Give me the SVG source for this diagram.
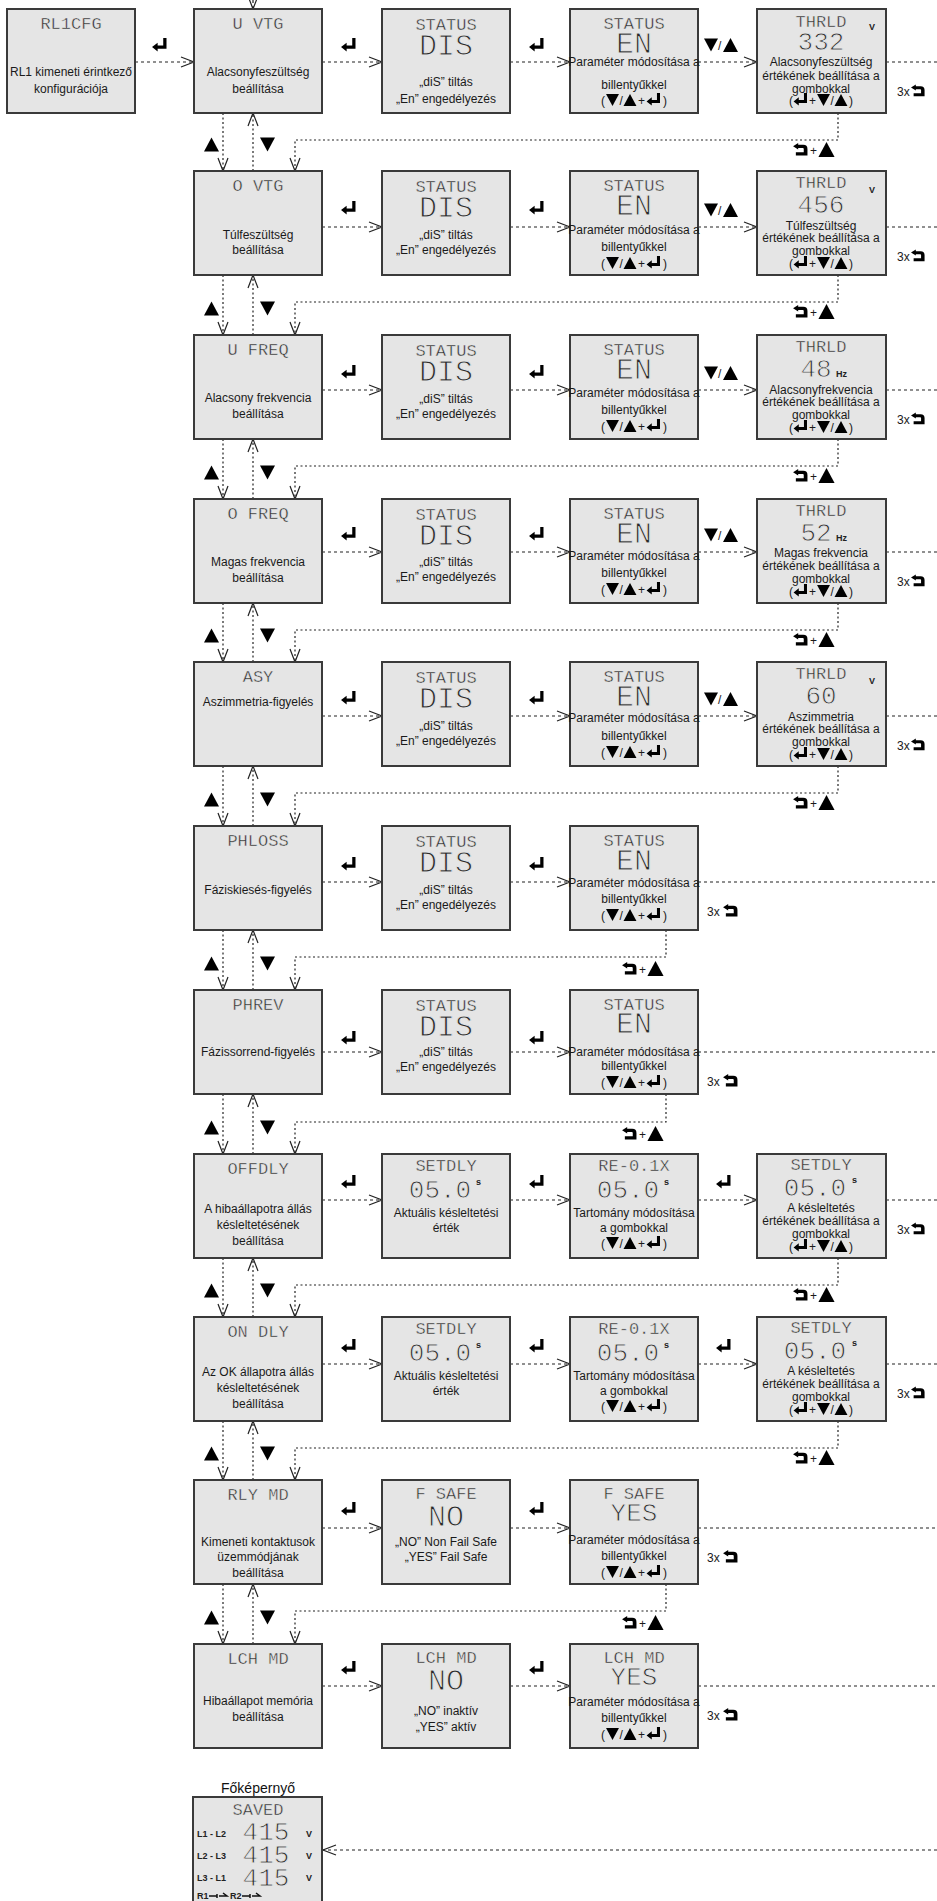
<svg xmlns="http://www.w3.org/2000/svg" width="937" height="1901" viewBox="0 0 937 1901">
<style>
.box{fill:#e5e5e5;stroke:#3a3a3a;stroke-width:2}
.lcd{font-family:"Liberation Mono","DejaVu Sans Mono",monospace;fill:#2a2a2a;stroke:#e5e5e5;stroke-width:0.45px;text-anchor:middle;font-size:17px}
.lg{font-size:30px;stroke-width:1px}
.md{font-size:26px;stroke-width:0.9px}
.t{font-family:"Liberation Sans",Arial,sans-serif;font-size:12px;fill:#1a1a1a;text-anchor:middle}
.ts{font-family:"Liberation Sans",Arial,sans-serif;font-size:12px;fill:#1a1a1a}
.u{font-family:"Liberation Sans",Arial,sans-serif;font-size:9px;font-weight:bold;fill:#222}
.c{fill:none;stroke:#222;stroke-width:1.2;stroke-dasharray:3 3}
.d{fill:none;stroke:#222;stroke-width:1.2;stroke-dasharray:2 2.5}
.ti{font-family:"Liberation Sans",Arial,sans-serif;font-size:14px;fill:#111;text-anchor:middle}
</style>
<defs>
<marker id="ah" markerUnits="userSpaceOnUse" markerWidth="16" markerHeight="12" refX="14" refY="6" orient="auto"><path d="M1,1 L14,6 L1,11" fill="none" stroke="#222" stroke-width="1.2" stroke-dasharray="none"/></marker>
<symbol id="ent" viewBox="0 0 16 15"><path d="M12,0H15.5V11.5H6V14.5L0,9.75L6,5V8H12Z"/></symbol>
<symbol id="bk" viewBox="0 0 16 14"><path d="M0,3.5L5.5,0V2H11Q15.5,2 15.5,6.5V13.5H3V10H11.5V6.5Q11.5,5.5 10.5,5.5H5.5V7Z"/></symbol>
<symbol id="tu" viewBox="0 0 14 13"><path d="M7,0L14,13H0Z"/></symbol>
<symbol id="td" viewBox="0 0 14 13"><path d="M0,0H14L7,13Z"/></symbol>
</defs>

<g id="connectors">
<path class="c" d="M253,0V9" marker-end="url(#ah)"/>
<path class="c" d="M135,62H194" marker-end="url(#ah)"/>
<path class="c" d="M322,62H382" marker-end="url(#ah)"/>
<path class="c" d="M510,62H570" marker-end="url(#ah)"/>
<path class="c" d="M698,62H757" marker-end="url(#ah)"/>
<path class="c" d="M886,62H937"/>
<path class="c" d="M322,227H382" marker-end="url(#ah)"/>
<path class="c" d="M510,227H570" marker-end="url(#ah)"/>
<path class="c" d="M698,227H757" marker-end="url(#ah)"/>
<path class="c" d="M886,227H937"/>
<path class="c" d="M322,390H382" marker-end="url(#ah)"/>
<path class="c" d="M510,390H570" marker-end="url(#ah)"/>
<path class="c" d="M698,390H757" marker-end="url(#ah)"/>
<path class="c" d="M886,390H937"/>
<path class="c" d="M322,552H382" marker-end="url(#ah)"/>
<path class="c" d="M510,552H570" marker-end="url(#ah)"/>
<path class="c" d="M698,552H757" marker-end="url(#ah)"/>
<path class="c" d="M886,552H937"/>
<path class="c" d="M322,716H382" marker-end="url(#ah)"/>
<path class="c" d="M510,716H570" marker-end="url(#ah)"/>
<path class="c" d="M698,716H757" marker-end="url(#ah)"/>
<path class="c" d="M886,716H937"/>
<path class="c" d="M322,882H382" marker-end="url(#ah)"/>
<path class="c" d="M510,882H570" marker-end="url(#ah)"/>
<path class="c" d="M698,882H937"/>
<path class="c" d="M322,1052H382" marker-end="url(#ah)"/>
<path class="c" d="M510,1052H570" marker-end="url(#ah)"/>
<path class="c" d="M698,1052H937"/>
<path class="c" d="M322,1200H382" marker-end="url(#ah)"/>
<path class="c" d="M510,1200H570" marker-end="url(#ah)"/>
<path class="c" d="M698,1200H757" marker-end="url(#ah)"/>
<path class="c" d="M886,1200H937"/>
<path class="c" d="M322,1364H382" marker-end="url(#ah)"/>
<path class="c" d="M510,1364H570" marker-end="url(#ah)"/>
<path class="c" d="M698,1364H757" marker-end="url(#ah)"/>
<path class="c" d="M886,1364H937"/>
<path class="c" d="M322,1528H382" marker-end="url(#ah)"/>
<path class="c" d="M510,1528H570" marker-end="url(#ah)"/>
<path class="c" d="M698,1528H937"/>
<path class="c" d="M322,1686H382" marker-end="url(#ah)"/>
<path class="c" d="M510,1686H570" marker-end="url(#ah)"/>
<path class="c" d="M698,1686H937"/>
<path class="c" d="M937,1850H323" marker-end="url(#ah)"/>
<path class="d" d="M223,113V171" marker-end="url(#ah)"/><path class="d" d="M253,171V113" marker-end="url(#ah)"/>
<path class="d" d="M223,275V335" marker-end="url(#ah)"/><path class="d" d="M253,335V275" marker-end="url(#ah)"/>
<path class="d" d="M223,439V499" marker-end="url(#ah)"/><path class="d" d="M253,499V439" marker-end="url(#ah)"/>
<path class="d" d="M223,603V662" marker-end="url(#ah)"/><path class="d" d="M253,662V603" marker-end="url(#ah)"/>
<path class="d" d="M223,766V826" marker-end="url(#ah)"/><path class="d" d="M253,826V766" marker-end="url(#ah)"/>
<path class="d" d="M223,930V990" marker-end="url(#ah)"/><path class="d" d="M253,990V930" marker-end="url(#ah)"/>
<path class="d" d="M223,1094V1154" marker-end="url(#ah)"/><path class="d" d="M253,1154V1094" marker-end="url(#ah)"/>
<path class="d" d="M223,1258V1317" marker-end="url(#ah)"/><path class="d" d="M253,1317V1258" marker-end="url(#ah)"/>
<path class="d" d="M223,1421V1480" marker-end="url(#ah)"/><path class="d" d="M253,1480V1421" marker-end="url(#ah)"/>
<path class="d" d="M223,1584V1644" marker-end="url(#ah)"/><path class="d" d="M253,1644V1584" marker-end="url(#ah)"/>
<path class="d" d="M838,113V140H295V171" marker-end="url(#ah)"/>
<path class="d" d="M838,275V302H295V335" marker-end="url(#ah)"/>
<path class="d" d="M838,439V466H295V499" marker-end="url(#ah)"/>
<path class="d" d="M838,603V630H295V662" marker-end="url(#ah)"/>
<path class="d" d="M838,766V793H295V826" marker-end="url(#ah)"/>
<path class="d" d="M666,930V957H295V990" marker-end="url(#ah)"/>
<path class="d" d="M666,1094V1122H295V1154" marker-end="url(#ah)"/>
<path class="d" d="M838,1258V1285H295V1317" marker-end="url(#ah)"/>
<path class="d" d="M838,1421V1448H295V1480" marker-end="url(#ah)"/>
<path class="d" d="M666,1584V1611H295V1644" marker-end="url(#ah)"/>
</g>

<g id="connector-labels">
<use href="#ent" x="152" y="38" width="15" height="14"/><use href="#ent" x="341" y="38" width="15" height="14"/><use href="#ent" x="529" y="38" width="15" height="14"/>
<use href="#td" x="704" y="38" width="14" height="14"/><text class="ts" x="718" y="50">/</text><use href="#tu" x="723" y="38" width="15" height="14"/>
<use href="#ent" x="341" y="201" width="15" height="14"/><use href="#ent" x="529" y="201" width="15" height="14"/>
<use href="#td" x="704" y="203" width="14" height="14"/><text class="ts" x="718" y="215">/</text><use href="#tu" x="723" y="203" width="15" height="14"/>
<use href="#ent" x="341" y="365" width="15" height="14"/><use href="#ent" x="529" y="365" width="15" height="14"/>
<use href="#td" x="704" y="366" width="14" height="14"/><text class="ts" x="718" y="378">/</text><use href="#tu" x="723" y="366" width="15" height="14"/>
<use href="#ent" x="341" y="527" width="15" height="14"/><use href="#ent" x="529" y="527" width="15" height="14"/>
<use href="#td" x="704" y="528" width="14" height="14"/><text class="ts" x="718" y="540">/</text><use href="#tu" x="723" y="528" width="15" height="14"/>
<use href="#ent" x="341" y="691" width="15" height="14"/><use href="#ent" x="529" y="691" width="15" height="14"/>
<use href="#td" x="704" y="692" width="14" height="14"/><text class="ts" x="718" y="704">/</text><use href="#tu" x="723" y="692" width="15" height="14"/>
<use href="#ent" x="341" y="857" width="15" height="14"/><use href="#ent" x="529" y="857" width="15" height="14"/>
<use href="#ent" x="341" y="1031" width="15" height="14"/><use href="#ent" x="529" y="1031" width="15" height="14"/>
<use href="#ent" x="341" y="1175" width="15" height="14"/><use href="#ent" x="529" y="1175" width="15" height="14"/><use href="#ent" x="716" y="1175" width="15" height="14"/>
<use href="#ent" x="341" y="1339" width="15" height="14"/><use href="#ent" x="529" y="1339" width="15" height="14"/><use href="#ent" x="716" y="1339" width="15" height="14"/>
<use href="#ent" x="341" y="1502" width="15" height="14"/><use href="#ent" x="529" y="1502" width="15" height="14"/>
<use href="#ent" x="341" y="1661" width="15" height="14"/><use href="#ent" x="529" y="1661" width="15" height="14"/>
<use href="#tu" x="204" y="137" width="15" height="15"/><use href="#td" x="260" y="137" width="15" height="15"/>
<use href="#tu" x="204" y="301" width="15" height="15"/><use href="#td" x="260" y="301" width="15" height="15"/>
<use href="#tu" x="204" y="465" width="15" height="15"/><use href="#td" x="260" y="465" width="15" height="15"/>
<use href="#tu" x="204" y="628" width="15" height="15"/><use href="#td" x="260" y="628" width="15" height="15"/>
<use href="#tu" x="204" y="792" width="15" height="15"/><use href="#td" x="260" y="792" width="15" height="15"/>
<use href="#tu" x="204" y="956" width="15" height="15"/><use href="#td" x="260" y="956" width="15" height="15"/>
<use href="#tu" x="204" y="1120" width="15" height="15"/><use href="#td" x="260" y="1120" width="15" height="15"/>
<use href="#tu" x="204" y="1283" width="15" height="15"/><use href="#td" x="260" y="1283" width="15" height="15"/>
<use href="#tu" x="204" y="1446" width="15" height="15"/><use href="#td" x="260" y="1446" width="15" height="15"/>
<use href="#tu" x="204" y="1610" width="15" height="15"/><use href="#td" x="260" y="1610" width="15" height="15"/>
<use href="#bk" x="793" y="143" width="15" height="13"/><text class="ts" x="810" y="155">+</text><use href="#tu" x="818" y="142" width="17" height="15"/>
<use href="#bk" x="793" y="305" width="15" height="13"/><text class="ts" x="810" y="317">+</text><use href="#tu" x="818" y="304" width="17" height="15"/>
<use href="#bk" x="793" y="469" width="15" height="13"/><text class="ts" x="810" y="481">+</text><use href="#tu" x="818" y="468" width="17" height="15"/>
<use href="#bk" x="793" y="633" width="15" height="13"/><text class="ts" x="810" y="645">+</text><use href="#tu" x="818" y="632" width="17" height="15"/>
<use href="#bk" x="793" y="796" width="15" height="13"/><text class="ts" x="810" y="808">+</text><use href="#tu" x="818" y="795" width="17" height="15"/>
<use href="#bk" x="622" y="962" width="15" height="13"/><text class="ts" x="639" y="974">+</text><use href="#tu" x="647" y="961" width="17" height="15"/>
<use href="#bk" x="622" y="1127" width="15" height="13"/><text class="ts" x="639" y="1139">+</text><use href="#tu" x="647" y="1126" width="17" height="15"/>
<use href="#bk" x="793" y="1288" width="15" height="13"/><text class="ts" x="810" y="1300">+</text><use href="#tu" x="818" y="1287" width="17" height="15"/>
<use href="#bk" x="793" y="1451" width="15" height="13"/><text class="ts" x="810" y="1463">+</text><use href="#tu" x="818" y="1450" width="17" height="15"/>
<use href="#bk" x="622" y="1616" width="15" height="13"/><text class="ts" x="639" y="1628">+</text><use href="#tu" x="647" y="1615" width="17" height="15"/>
<text class="ts" x="897" y="96" font-size="11">3x</text><use href="#bk" x="911" y="84" width="14" height="13"/>
<text class="ts" x="897" y="261" font-size="11">3x</text><use href="#bk" x="911" y="249" width="14" height="13"/>
<text class="ts" x="897" y="424" font-size="11">3x</text><use href="#bk" x="911" y="412" width="14" height="13"/>
<text class="ts" x="897" y="586" font-size="11">3x</text><use href="#bk" x="911" y="574" width="14" height="13"/>
<text class="ts" x="897" y="750" font-size="11">3x</text><use href="#bk" x="911" y="738" width="14" height="13"/>
<text class="ts" x="707" y="916" font-size="11">3x</text><use href="#bk" x="723" y="904" width="15" height="13"/>
<text class="ts" x="707" y="1086" font-size="11">3x</text><use href="#bk" x="723" y="1074" width="15" height="13"/>
<text class="ts" x="897" y="1234" font-size="11">3x</text><use href="#bk" x="911" y="1222" width="14" height="13"/>
<text class="ts" x="897" y="1398" font-size="11">3x</text><use href="#bk" x="911" y="1386" width="14" height="13"/>
<text class="ts" x="707" y="1562" font-size="11">3x</text><use href="#bk" x="723" y="1550" width="15" height="13"/>
<text class="ts" x="707" y="1720" font-size="11">3x</text><use href="#bk" x="723" y="1708" width="15" height="13"/>
</g>

<g id="rl1cfg"><rect class="box" x="7" y="9" width="128" height="104"/><text class="lcd" x="71" y="29">RL1CFG</text><text class="t" x="71" y="76">RL1 kimeneti érintkező</text><text class="t" x="71" y="93">konfigurációja</text></g>
<g id="u-vtg"><rect class="box" x="194" y="9" width="128" height="104"/><text class="lcd" x="258" y="29">U VTG</text><text class="t" x="258" y="76">Alacsonyfeszültség</text><text class="t" x="258" y="93">beállítása</text></g>
<g id="u-vtg-status"><rect class="box" x="382" y="9" width="128" height="104"/><text class="lcd" x="446" y="30">STATUS</text><text class="lcd lg" x="446" y="55">DIS</text><text class="t" x="446" y="86">„diS” tiltás</text><text class="t" x="446" y="103">„En” engedélyezés</text></g>
<g id="u-vtg-en"><rect class="box" x="570" y="9" width="128" height="104"/><text class="lcd" x="634" y="29">STATUS</text><text class="lcd lg" x="634" y="53">EN</text><text class="t" x="634" y="66">Paraméter módosítása a</text><text class="t" x="634" y="89">billentyűkkel</text>
<g transform="translate(601,105)"><text class="ts" x="0" y="0">(</text><use href="#td" x="5" y="-11" width="13" height="12"/><text class="ts" x="18.5" y="0">/</text><use href="#tu" x="22" y="-11" width="14" height="12"/><text class="ts" x="37" y="0">+</text><use href="#ent" x="45" y="-12" width="15" height="13"/><text class="ts" x="62" y="0">)</text></g></g>
<g id="u-vtg-thrld"><rect class="box" x="757" y="9" width="129" height="104"/><text class="lcd" x="821" y="27">THRLD</text><text class="lcd md" x="821" y="50">332</text><text class="u" x="869" y="30">V</text><text class="t" x="821" y="66">Alacsonyfeszültség</text><text class="t" x="821" y="80">értékének beállítása a</text><text class="t" x="821" y="93">gombokkal</text>
<g transform="translate(789,105)"><text class="ts" x="0" y="0">(</text><use href="#ent" x="4" y="-12" width="15" height="13"/><text class="ts" x="20" y="0">+</text><use href="#td" x="28" y="-11" width="13" height="12"/><text class="ts" x="41.5" y="0">/</text><use href="#tu" x="45" y="-11" width="14" height="12"/><text class="ts" x="60" y="0">)</text></g></g>

<g id="o-vtg"><rect class="box" x="194" y="171" width="128" height="104"/><text class="lcd" x="258" y="191">O VTG</text><text class="t" x="258" y="239">Túlfeszültség</text><text class="t" x="258" y="254">beállítása</text></g>
<g id="o-vtg-status"><rect class="box" x="382" y="171" width="128" height="104"/><text class="lcd" x="446" y="192">STATUS</text><text class="lcd lg" x="446" y="217">DIS</text><text class="t" x="446" y="239">„diS” tiltás</text><text class="t" x="446" y="254">„En” engedélyezés</text></g>
<g id="o-vtg-en"><rect class="box" x="570" y="171" width="128" height="104"/><text class="lcd" x="634" y="191">STATUS</text><text class="lcd lg" x="634" y="215">EN</text><text class="t" x="634" y="234">Paraméter módosítása a</text><text class="t" x="634" y="251">billentyűkkel</text>
<g transform="translate(601,268)"><text class="ts" x="0" y="0">(</text><use href="#td" x="5" y="-11" width="13" height="12"/><text class="ts" x="18.5" y="0">/</text><use href="#tu" x="22" y="-11" width="14" height="12"/><text class="ts" x="37" y="0">+</text><use href="#ent" x="45" y="-12" width="15" height="13"/><text class="ts" x="62" y="0">)</text></g></g>
<g id="o-vtg-thrld"><rect class="box" x="757" y="171" width="129" height="104"/><text class="lcd" x="821" y="188">THRLD</text><text class="lcd md" x="821" y="213">456</text><text class="u" x="869" y="193">V</text><text class="t" x="821" y="230">Túlfeszültség</text><text class="t" x="821" y="242">értékének beállítása a</text><text class="t" x="821" y="255">gombokkal</text>
<g transform="translate(789,268)"><text class="ts" x="0" y="0">(</text><use href="#ent" x="4" y="-12" width="15" height="13"/><text class="ts" x="20" y="0">+</text><use href="#td" x="28" y="-11" width="13" height="12"/><text class="ts" x="41.5" y="0">/</text><use href="#tu" x="45" y="-11" width="14" height="12"/><text class="ts" x="60" y="0">)</text></g></g>

<g id="u-freq"><rect class="box" x="194" y="335" width="128" height="104"/><text class="lcd" x="258" y="355">U FREQ</text><text class="t" x="258" y="402">Alacsony frekvencia</text><text class="t" x="258" y="418">beállítása</text></g>
<g id="u-freq-status"><rect class="box" x="382" y="335" width="128" height="104"/><text class="lcd" x="446" y="356">STATUS</text><text class="lcd lg" x="446" y="381">DIS</text><text class="t" x="446" y="403">„diS” tiltás</text><text class="t" x="446" y="418">„En” engedélyezés</text></g>
<g id="u-freq-en"><rect class="box" x="570" y="335" width="128" height="104"/><text class="lcd" x="634" y="355">STATUS</text><text class="lcd lg" x="634" y="379">EN</text><text class="t" x="634" y="397">Paraméter módosítása a</text><text class="t" x="634" y="414">billentyűkkel</text>
<g transform="translate(601,431)"><text class="ts" x="0" y="0">(</text><use href="#td" x="5" y="-11" width="13" height="12"/><text class="ts" x="18.5" y="0">/</text><use href="#tu" x="22" y="-11" width="14" height="12"/><text class="ts" x="37" y="0">+</text><use href="#ent" x="45" y="-12" width="15" height="13"/><text class="ts" x="62" y="0">)</text></g></g>
<g id="u-freq-thrld"><rect class="box" x="757" y="335" width="129" height="104"/><text class="lcd" x="821" y="352">THRLD</text><text class="lcd md" x="816" y="377">48</text><text class="u" x="836" y="377">Hz</text><text class="t" x="821" y="394">Alacsonyfrekvencia</text><text class="t" x="821" y="406">értékének beállítása a</text><text class="t" x="821" y="419">gombokkal</text>
<g transform="translate(789,432)"><text class="ts" x="0" y="0">(</text><use href="#ent" x="4" y="-12" width="15" height="13"/><text class="ts" x="20" y="0">+</text><use href="#td" x="28" y="-11" width="13" height="12"/><text class="ts" x="41.5" y="0">/</text><use href="#tu" x="45" y="-11" width="14" height="12"/><text class="ts" x="60" y="0">)</text></g></g>

<g id="o-freq"><rect class="box" x="194" y="499" width="128" height="104"/><text class="lcd" x="258" y="519">O FREQ</text><text class="t" x="258" y="566">Magas frekvencia</text><text class="t" x="258" y="582">beállítása</text></g>
<g id="o-freq-status"><rect class="box" x="382" y="499" width="128" height="104"/><text class="lcd" x="446" y="520">STATUS</text><text class="lcd lg" x="446" y="545">DIS</text><text class="t" x="446" y="566">„diS” tiltás</text><text class="t" x="446" y="581">„En” engedélyezés</text></g>
<g id="o-freq-en"><rect class="box" x="570" y="499" width="128" height="104"/><text class="lcd" x="634" y="519">STATUS</text><text class="lcd lg" x="634" y="543">EN</text><text class="t" x="634" y="560">Paraméter módosítása a</text><text class="t" x="634" y="577">billentyűkkel</text>
<g transform="translate(601,594)"><text class="ts" x="0" y="0">(</text><use href="#td" x="5" y="-11" width="13" height="12"/><text class="ts" x="18.5" y="0">/</text><use href="#tu" x="22" y="-11" width="14" height="12"/><text class="ts" x="37" y="0">+</text><use href="#ent" x="45" y="-12" width="15" height="13"/><text class="ts" x="62" y="0">)</text></g></g>
<g id="o-freq-thrld"><rect class="box" x="757" y="499" width="129" height="104"/><text class="lcd" x="821" y="516">THRLD</text><text class="lcd md" x="816" y="541">52</text><text class="u" x="836" y="541">Hz</text><text class="t" x="821" y="557">Magas frekvencia</text><text class="t" x="821" y="570">értékének beállítása a</text><text class="t" x="821" y="583">gombokkal</text>
<g transform="translate(789,596)"><text class="ts" x="0" y="0">(</text><use href="#ent" x="4" y="-12" width="15" height="13"/><text class="ts" x="20" y="0">+</text><use href="#td" x="28" y="-11" width="13" height="12"/><text class="ts" x="41.5" y="0">/</text><use href="#tu" x="45" y="-11" width="14" height="12"/><text class="ts" x="60" y="0">)</text></g></g>

<g id="asy"><rect class="box" x="194" y="662" width="128" height="104"/><text class="lcd" x="258" y="682">ASY</text><text class="t" x="258" y="706">Aszimmetria-figyelés</text></g>
<g id="asy-status"><rect class="box" x="382" y="662" width="128" height="104"/><text class="lcd" x="446" y="683">STATUS</text><text class="lcd lg" x="446" y="708">DIS</text><text class="t" x="446" y="730">„diS” tiltás</text><text class="t" x="446" y="745">„En” engedélyezés</text></g>
<g id="asy-en"><rect class="box" x="570" y="662" width="128" height="104"/><text class="lcd" x="634" y="682">STATUS</text><text class="lcd lg" x="634" y="706">EN</text><text class="t" x="634" y="722">Paraméter módosítása a</text><text class="t" x="634" y="740">billentyűkkel</text>
<g transform="translate(601,757)"><text class="ts" x="0" y="0">(</text><use href="#td" x="5" y="-11" width="13" height="12"/><text class="ts" x="18.5" y="0">/</text><use href="#tu" x="22" y="-11" width="14" height="12"/><text class="ts" x="37" y="0">+</text><use href="#ent" x="45" y="-12" width="15" height="13"/><text class="ts" x="62" y="0">)</text></g></g>
<g id="asy-thrld"><rect class="box" x="757" y="662" width="129" height="104"/><text class="lcd" x="821" y="679">THRLD</text><text class="lcd md" x="821" y="704">60</text><text class="u" x="869" y="684">V</text><text class="t" x="821" y="721">Aszimmetria</text><text class="t" x="821" y="733">értékének beállítása a</text><text class="t" x="821" y="746">gombokkal</text>
<g transform="translate(789,759)"><text class="ts" x="0" y="0">(</text><use href="#ent" x="4" y="-12" width="15" height="13"/><text class="ts" x="20" y="0">+</text><use href="#td" x="28" y="-11" width="13" height="12"/><text class="ts" x="41.5" y="0">/</text><use href="#tu" x="45" y="-11" width="14" height="12"/><text class="ts" x="60" y="0">)</text></g></g>

<g id="phloss"><rect class="box" x="194" y="826" width="128" height="104"/><text class="lcd" x="258" y="846">PHLOSS</text><text class="t" x="258" y="894">Fáziskiesés-figyelés</text></g>
<g id="phloss-status"><rect class="box" x="382" y="826" width="128" height="104"/><text class="lcd" x="446" y="847">STATUS</text><text class="lcd lg" x="446" y="872">DIS</text><text class="t" x="446" y="894">„diS” tiltás</text><text class="t" x="446" y="909">„En” engedélyezés</text></g>
<g id="phloss-en"><rect class="box" x="570" y="826" width="128" height="104"/><text class="lcd" x="634" y="846">STATUS</text><text class="lcd lg" x="634" y="870">EN</text><text class="t" x="634" y="887">Paraméter módosítása a</text><text class="t" x="634" y="903">billentyűkkel</text>
<g transform="translate(601,920)"><text class="ts" x="0" y="0">(</text><use href="#td" x="5" y="-11" width="13" height="12"/><text class="ts" x="18.5" y="0">/</text><use href="#tu" x="22" y="-11" width="14" height="12"/><text class="ts" x="37" y="0">+</text><use href="#ent" x="45" y="-12" width="15" height="13"/><text class="ts" x="62" y="0">)</text></g></g>

<g id="phrev"><rect class="box" x="194" y="990" width="128" height="104"/><text class="lcd" x="258" y="1010">PHREV</text><text class="t" x="258" y="1056">Fázissorrend-figyelés</text></g>
<g id="phrev-status"><rect class="box" x="382" y="990" width="128" height="104"/><text class="lcd" x="446" y="1011">STATUS</text><text class="lcd lg" x="446" y="1036">DIS</text><text class="t" x="446" y="1056">„diS” tiltás</text><text class="t" x="446" y="1071">„En” engedélyezés</text></g>
<g id="phrev-en"><rect class="box" x="570" y="990" width="128" height="104"/><text class="lcd" x="634" y="1010">STATUS</text><text class="lcd lg" x="634" y="1033">EN</text><text class="t" x="634" y="1056">Paraméter módosítása a</text><text class="t" x="634" y="1070">billentyűkkel</text>
<g transform="translate(601,1087)"><text class="ts" x="0" y="0">(</text><use href="#td" x="5" y="-11" width="13" height="12"/><text class="ts" x="18.5" y="0">/</text><use href="#tu" x="22" y="-11" width="14" height="12"/><text class="ts" x="37" y="0">+</text><use href="#ent" x="45" y="-12" width="15" height="13"/><text class="ts" x="62" y="0">)</text></g></g>

<g id="offdly"><rect class="box" x="194" y="1154" width="128" height="104"/><text class="lcd" x="258" y="1174">OFFDLY</text><text class="t" x="258" y="1213">A hibaállapotra állás</text><text class="t" x="258" y="1229">késleltetésének</text><text class="t" x="258" y="1245">beállítása</text></g>
<g id="offdly-setdly"><rect class="box" x="382" y="1154" width="128" height="104"/><text class="lcd" x="446" y="1171">SETDLY</text><text class="lcd md" x="440" y="1198">05.0</text><text class="u" x="476" y="1185" font-size="11">s</text><text class="t" x="446" y="1217">Aktuális késleltetési</text><text class="t" x="446" y="1232">érték</text></g>
<g id="offdly-range"><rect class="box" x="570" y="1154" width="128" height="104"/><text class="lcd" x="634" y="1171">RE-0.1X</text><text class="lcd md" x="628" y="1198">05.0</text><text class="u" x="664" y="1185" font-size="11">s</text><text class="t" x="634" y="1217">Tartomány módosítása</text><text class="t" x="634" y="1232">a gombokkal</text>
<g transform="translate(601,1248)"><text class="ts" x="0" y="0">(</text><use href="#td" x="5" y="-11" width="13" height="12"/><text class="ts" x="18.5" y="0">/</text><use href="#tu" x="22" y="-11" width="14" height="12"/><text class="ts" x="37" y="0">+</text><use href="#ent" x="45" y="-12" width="15" height="13"/><text class="ts" x="62" y="0">)</text></g></g>
<g id="offdly-set"><rect class="box" x="757" y="1154" width="129" height="104"/><text class="lcd" x="821" y="1170">SETDLY</text><text class="lcd md" x="815" y="1196">05.0</text><text class="u" x="852" y="1183" font-size="11">s</text><text class="t" x="821" y="1212">A késleltetés</text><text class="t" x="821" y="1225">értékének beállítása a</text><text class="t" x="821" y="1238">gombokkal</text>
<g transform="translate(789,1251)"><text class="ts" x="0" y="0">(</text><use href="#ent" x="4" y="-12" width="15" height="13"/><text class="ts" x="20" y="0">+</text><use href="#td" x="28" y="-11" width="13" height="12"/><text class="ts" x="41.5" y="0">/</text><use href="#tu" x="45" y="-11" width="14" height="12"/><text class="ts" x="60" y="0">)</text></g></g>

<g id="ondly"><rect class="box" x="194" y="1317" width="128" height="104"/><text class="lcd" x="258" y="1337">ON DLY</text><text class="t" x="258" y="1376">Az OK állapotra állás</text><text class="t" x="258" y="1392">késleltetésének</text><text class="t" x="258" y="1408">beállítása</text></g>
<g id="ondly-setdly"><rect class="box" x="382" y="1317" width="128" height="104"/><text class="lcd" x="446" y="1334">SETDLY</text><text class="lcd md" x="440" y="1361">05.0</text><text class="u" x="476" y="1348" font-size="11">s</text><text class="t" x="446" y="1380">Aktuális késleltetési</text><text class="t" x="446" y="1395">érték</text></g>
<g id="ondly-range"><rect class="box" x="570" y="1317" width="128" height="104"/><text class="lcd" x="634" y="1334">RE-0.1X</text><text class="lcd md" x="628" y="1361">05.0</text><text class="u" x="664" y="1348" font-size="11">s</text><text class="t" x="634" y="1380">Tartomány módosítása</text><text class="t" x="634" y="1395">a gombokkal</text>
<g transform="translate(601,1411)"><text class="ts" x="0" y="0">(</text><use href="#td" x="5" y="-11" width="13" height="12"/><text class="ts" x="18.5" y="0">/</text><use href="#tu" x="22" y="-11" width="14" height="12"/><text class="ts" x="37" y="0">+</text><use href="#ent" x="45" y="-12" width="15" height="13"/><text class="ts" x="62" y="0">)</text></g></g>
<g id="ondly-set"><rect class="box" x="757" y="1317" width="129" height="104"/><text class="lcd" x="821" y="1333">SETDLY</text><text class="lcd md" x="815" y="1359">05.0</text><text class="u" x="852" y="1346" font-size="11">s</text><text class="t" x="821" y="1375">A késleltetés</text><text class="t" x="821" y="1388">értékének beállítása a</text><text class="t" x="821" y="1401">gombokkal</text>
<g transform="translate(789,1414)"><text class="ts" x="0" y="0">(</text><use href="#ent" x="4" y="-12" width="15" height="13"/><text class="ts" x="20" y="0">+</text><use href="#td" x="28" y="-11" width="13" height="12"/><text class="ts" x="41.5" y="0">/</text><use href="#tu" x="45" y="-11" width="14" height="12"/><text class="ts" x="60" y="0">)</text></g></g>

<g id="rlymd"><rect class="box" x="194" y="1480" width="128" height="104"/><text class="lcd" x="258" y="1500">RLY MD</text><text class="t" x="258" y="1546">Kimeneti kontaktusok</text><text class="t" x="258" y="1561">üzemmódjának</text><text class="t" x="258" y="1577">beállítása</text></g>
<g id="rlymd-no"><rect class="box" x="382" y="1480" width="128" height="104"/><text class="lcd" x="446" y="1499">F SAFE</text><text class="lcd lg" x="446" y="1526">NO</text><text class="t" x="446" y="1546">„NO” Non Fail Safe</text><text class="t" x="446" y="1561">„YES” Fail Safe</text></g>
<g id="rlymd-yes"><rect class="box" x="570" y="1480" width="128" height="104"/><text class="lcd" x="634" y="1499">F SAFE</text><text class="lcd md" x="634" y="1521">YES</text><text class="t" x="634" y="1544">Paraméter módosítása a</text><text class="t" x="634" y="1560">billentyűkkel</text>
<g transform="translate(601,1577)"><text class="ts" x="0" y="0">(</text><use href="#td" x="5" y="-11" width="13" height="12"/><text class="ts" x="18.5" y="0">/</text><use href="#tu" x="22" y="-11" width="14" height="12"/><text class="ts" x="37" y="0">+</text><use href="#ent" x="45" y="-12" width="15" height="13"/><text class="ts" x="62" y="0">)</text></g></g>

<g id="lchmd"><rect class="box" x="194" y="1644" width="128" height="104"/><text class="lcd" x="258" y="1664">LCH MD</text><text class="t" x="258" y="1705">Hibaállapot memória</text><text class="t" x="258" y="1721">beállítása</text></g>
<g id="lchmd-no"><rect class="box" x="382" y="1644" width="128" height="104"/><text class="lcd" x="446" y="1663">LCH MD</text><text class="lcd lg" x="446" y="1690">NO</text><text class="t" x="446" y="1715">„NO” inaktív</text><text class="t" x="446" y="1731">„YES” aktív</text></g>
<g id="lchmd-yes"><rect class="box" x="570" y="1644" width="128" height="104"/><text class="lcd" x="634" y="1663">LCH MD</text><text class="lcd md" x="634" y="1685">YES</text><text class="t" x="634" y="1706">Paraméter módosítása a</text><text class="t" x="634" y="1722">billentyűkkel</text>
<g transform="translate(601,1739)"><text class="ts" x="0" y="0">(</text><use href="#td" x="5" y="-11" width="13" height="12"/><text class="ts" x="18.5" y="0">/</text><use href="#tu" x="22" y="-11" width="14" height="12"/><text class="ts" x="37" y="0">+</text><use href="#ent" x="45" y="-12" width="15" height="13"/><text class="ts" x="62" y="0">)</text></g></g>

<g id="main-screen">
<text class="ti" x="258" y="1793">Főképernyő</text>
<rect class="box" x="193" y="1797" width="129" height="120"/>
<text class="lcd" x="258" y="1815">SAVED</text>
<text class="u" x="197" y="1837">L1 - L2</text><text class="lcd md" x="266" y="1840">415</text><text class="u" x="306" y="1837">V</text>
<text class="u" x="197" y="1859">L2 - L3</text><text class="lcd md" x="266" y="1863">415</text><text class="u" x="306" y="1859">V</text>
<text class="u" x="197" y="1881">L3 - L1</text><text class="lcd md" x="266" y="1886">415</text><text class="u" x="306" y="1881">V</text>
<text class="u" x="197" y="1899">R1</text><path d="M209,1896H217M217,1894V1898M219,1896H227L223,1893" fill="none" stroke="#111" stroke-width="1.5"/>
<text class="u" x="230" y="1899">R2</text><path d="M242,1896H250M250,1894V1898M252,1896H260L256,1893" fill="none" stroke="#111" stroke-width="1.5"/>
</g>
</svg>
